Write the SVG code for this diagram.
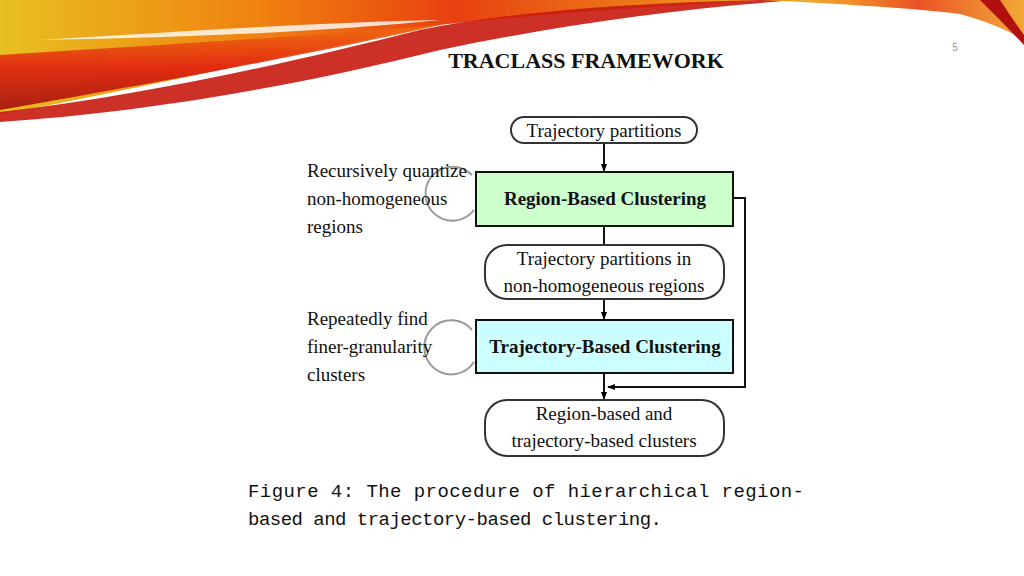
<svg xmlns="http://www.w3.org/2000/svg" width="1024" height="576" viewBox="0 0 1024 576">
<defs>
<linearGradient id="sw" x1="0" y1="0" x2="1" y2="0"><stop offset="0" stop-color="#e8c020"/><stop offset="0.35" stop-color="#f08010"/><stop offset="0.6" stop-color="#e84010"/><stop offset="1" stop-color="#f0a020"/></linearGradient>
<linearGradient id="sw2" x1="0" y1="0" x2="0" y2="1"><stop offset="0" stop-color="#f07010"/><stop offset="0.5" stop-color="#e02010"/><stop offset="1" stop-color="#a01010"/></linearGradient>
<marker id="ah" markerWidth="8" markerHeight="8" refX="7" refY="4" orient="auto" markerUnits="userSpaceOnUse"><path d="M0,1 L8,4 L0,7 Z" fill="#000"/></marker>
<style>
.t{font-family:"Liberation Serif",serif;font-size:19px;fill:#111}
.b{font-family:"Liberation Serif",serif;font-size:19px;font-weight:bold;fill:#111}
.pill{fill:#fff;stroke:#333;stroke-width:2}
.box{stroke:#111;stroke-width:2}
.c{stroke:#111;stroke-width:2;fill:none}
.loop{fill:none;stroke:#999;stroke-width:2}
.cap{font-family:"Liberation Mono",monospace;font-size:19px;fill:#111}
</style>
</defs>
<rect width="1024" height="576" fill="#fff"/>
<path d="M0,0 L760,0 C640,8 520,15 440,25 C330,45 180,80 0,115 Z" fill="url(#sw)"/>
<path d="M0,55 C150,45 330,35 440,25 C330,50 200,75 0,110 Z" fill="url(#sw2)" opacity="0.9"/>
<path d="M0,112 C150,95 300,60 420,30 C520,10 640,3 760,0 L800,0 C680,8 560,25 440,50 C300,85 150,112 0,122 Z" fill="#c81a10" opacity="0.9"/>
<path d="M40,40 C200,30 330,22 440,20 C340,30 220,37 40,40 Z" fill="#fff" opacity="0.8"/>
<path d="M760,0 C840,4 910,8 960,14 C990,22 1010,32 1024,40 L1024,0 Z" fill="url(#sw)" opacity="0.9"/>
<path d="M980,0 L1000,0 C1010,15 1020,30 1024,35 L1024,45 C1010,30 995,15 980,0 Z" fill="#b01010"/>
<text x="586" y="68" text-anchor="middle" font-family="Liberation Serif,serif" font-size="22" font-weight="bold" fill="#111">TRACLASS FRAMEWORK</text>
<text x="955" y="51" text-anchor="middle" font-family="Liberation Sans,sans-serif" font-size="10" fill="#999">5</text>
<g id="connectors">
<line class="c" x1="604" y1="143" x2="604" y2="171" marker-end="url(#ah)"/>
<line class="c" x1="604" y1="226" x2="604" y2="245"/>
<line class="c" x1="604" y1="299" x2="604" y2="319" marker-end="url(#ah)"/>
<line class="c" x1="604" y1="373" x2="604" y2="399" marker-end="url(#ah)"/>
<polyline class="c" points="733,198 745,198 745,387 608,387" marker-end="url(#ah)"/>
<path class="loop" d="M474,210 A27,27 0 1 1 472,175"/>
<path class="loop" d="M474,362 A27,27 0 1 1 472,330"/>
</g>
<g id="n1"><rect class="pill" x="511" y="117" width="186" height="26" rx="13"/><text class="t" x="604" y="137" text-anchor="middle">Trajectory partitions</text></g>
<g id="n2"><rect class="box" x="476" y="172" width="257" height="54" fill="#ccffcc"/><text class="b" x="605" y="205" text-anchor="middle">Region-Based Clustering</text></g>
<g id="n3"><rect class="pill" x="485" y="245" width="239" height="54" rx="22"/><text class="t" x="604" y="265" text-anchor="middle">Trajectory partitions in</text><text class="t" x="604" y="292" text-anchor="middle">non-homogeneous regions</text></g>
<g id="n4"><rect class="box" x="476" y="320" width="257" height="53" fill="#ccffff"/><text class="b" x="605" y="353" text-anchor="middle">Trajectory-Based Clustering</text></g>
<g id="n5"><rect class="pill" x="485" y="400" width="239" height="56" rx="22"/><text class="t" x="604" y="420" text-anchor="middle">Region-based and</text><text class="t" x="604" y="447" text-anchor="middle">trajectory-based clusters</text></g>
<g id="l1"><text class="t" x="307" y="177">Recursively quantize</text><text class="t" x="307" y="205">non-homogeneous</text><text class="t" x="307" y="233">regions</text></g>
<g id="l2"><text class="t" x="307" y="325">Repeatedly find</text><text class="t" x="307" y="353">finer-granularity</text><text class="t" x="307" y="381">clusters</text></g>
<text class="cap" x="248" y="497" textLength="556" lengthAdjust="spacing">Figure 4:  The procedure of hierarchical region-</text>
<text class="cap" x="248" y="525" textLength="414" lengthAdjust="spacing">based and trajectory-based clustering.</text>
</svg>
